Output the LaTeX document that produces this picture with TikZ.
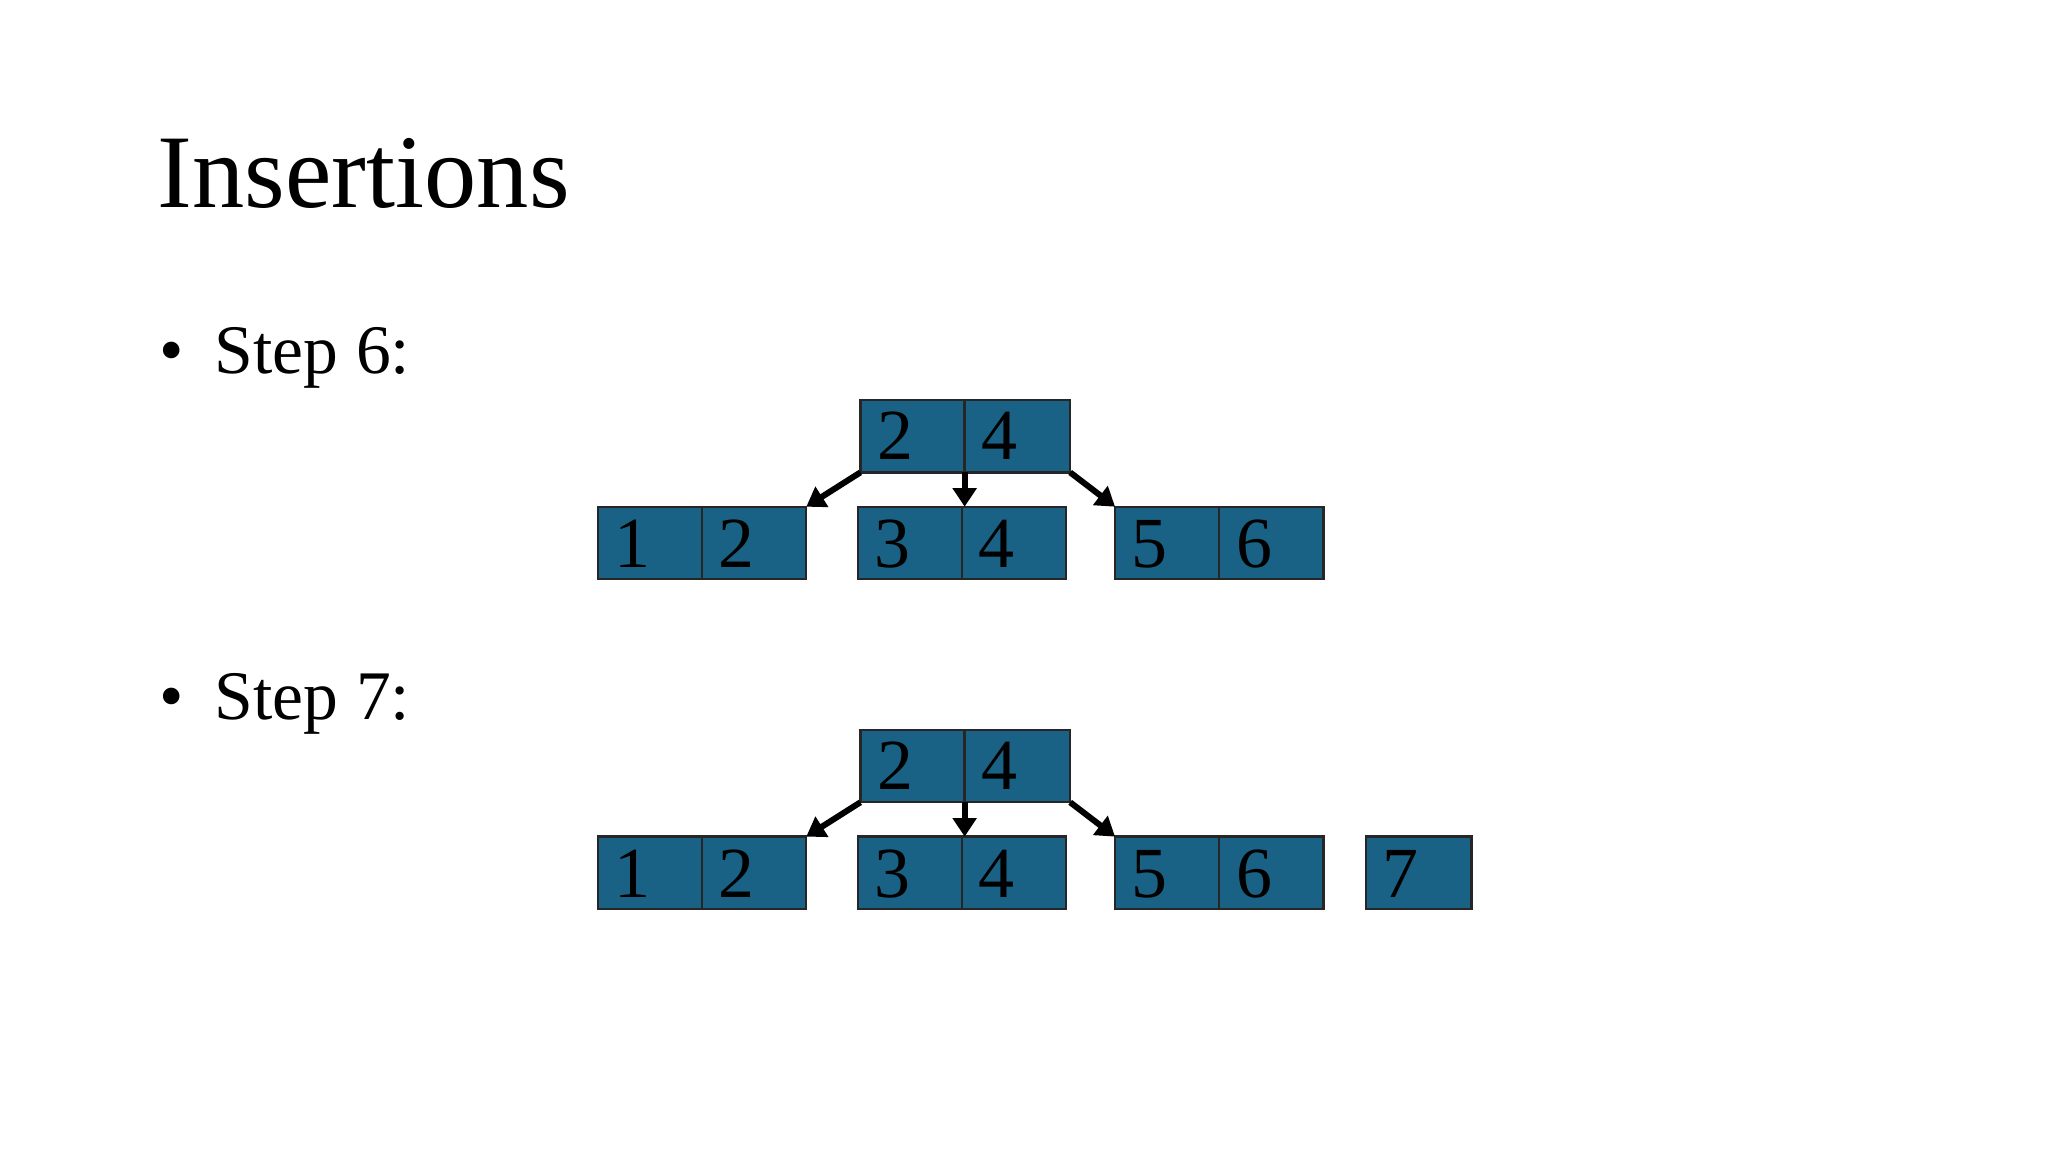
\documentclass[tikz,border=0pt]{standalone}
\usepackage{fontspec}
\setmainfont{Liberation Serif}
\usetikzlibrary{arrows.meta}
\definecolor{cellblue}{HTML}{1A6285}
\tikzset{
 cell/.style={draw=black!85, fill=cellblue, line width=0.5pt},
 digit/.style={anchor=base west, font=\fontsize{15.5}{18}\selectfont, inner sep=0pt},
 arr/.style={-{Triangle[length=4pt,width=5pt]}, line width=1.3pt, black}
}
\begin{document}
\begin{tikzpicture}[x=0.01cm,y=-0.01cm]
\useasboundingbox (0,0) rectangle (1552,873);
\node[anchor=base west, inner sep=0pt, font=\fontsize{22.5}{26}\selectfont] (title) at (119,157) {Insertions};
\node[anchor=base west, inner sep=0pt, font=\fontsize{15}{18}\selectfont] (s6) at (120,283) {\textbullet\hspace{0.45em}Step 6:};
\node[anchor=base west, inner sep=0pt, font=\fontsize{15}{18}\selectfont] (s7) at (120,545) {\textbullet\hspace{0.45em}Step 7:};
% Step 6
\foreach \yo/\p in {0/a, 250/b}{
 \begin{scope}[yshift=-\yo*0.01cm]
  \draw[cell] (652,303) rectangle (731,358);
  \draw[cell] (731,303) rectangle (811,358);
  \node[digit] (\p r1) at (664,348) {2};
  \node[digit] (\p r2) at (743,348) {4};
  \foreach \l/\a/\b in {453/1/2, 650/3/4, 845/5/6}{
   \draw[cell] (\l,384) rectangle (\l+79,439);
   \draw[cell] (\l+79,384) rectangle (\l+158,439);
   \node[digit] at (\l+12,430) {\a};
   \node[digit] at (\l+91,430) {\b};
  }
  \coordinate (\p A) at (652,358); \coordinate (\p B) at (611,384);
  \coordinate (\p C) at (731,358); \coordinate (\p D) at (731,384);
  \coordinate (\p E) at (811,358); \coordinate (\p F) at (845,384);
  \draw[arr] (\p A) -- (\p B);
  \draw[arr] (\p C) -- (\p D);
  \draw[arr] (\p E) -- (\p F);
 \end{scope}
}
\draw[cell] (1035,634) rectangle (1115,689);
\node[digit] (seven) at (1047,680) {7};
\end{tikzpicture}
\end{document}
